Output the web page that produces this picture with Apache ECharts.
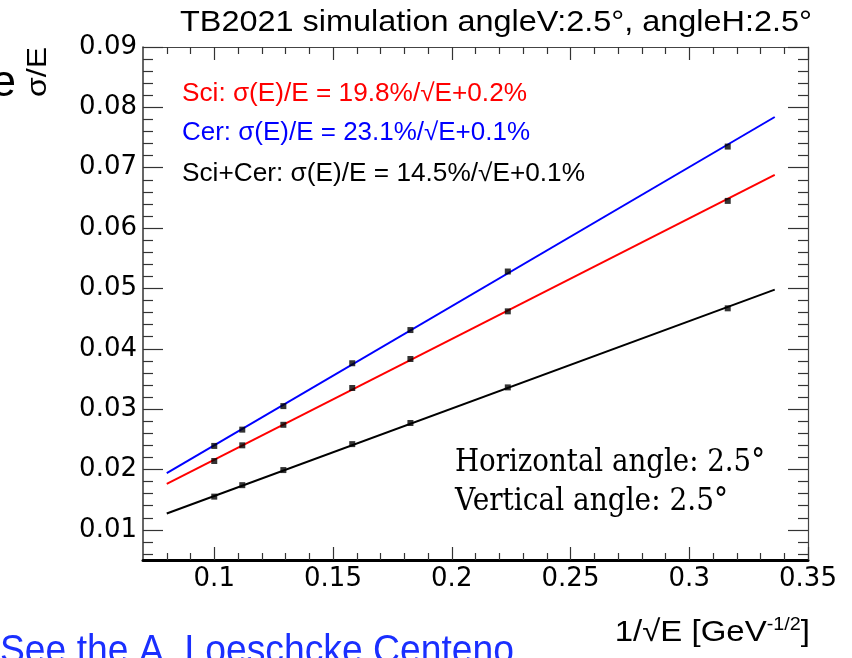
<!DOCTYPE html>
<html><head><meta charset="utf-8">
<script src="https://cdn.jsdelivr.net/npm/echarts@6/dist/echarts.min.js"></script>
<style>html,body{margin:0;padding:0;background:#fff}#c{width:852px;height:658px}</style>
</head><body><div id="c"></div>
<script>
// ---- data ----
const xInvSqrtE = [0.1, 0.1118, 0.1291, 0.1581, 0.1826, 0.2236, 0.3162];
const sciValues = [0.0214, 0.0240, 0.0274, 0.0335, 0.0383, 0.0462, 0.0645];
const cerValues = [0.0239, 0.0266, 0.0305, 0.0376, 0.0431, 0.0528, 0.0735];
const sumValues = [0.0155, 0.0174, 0.0199, 0.0242, 0.0277, 0.0336, 0.0467];
const fitX   = [0.08, 0.336];
const sciFit = [0.0176, 0.0688];
const cerFit = [0.0194, 0.0784];
const sumFit = [0.0127, 0.0498];
const xMajorTicks = [0.1, 0.15, 0.2, 0.25, 0.3, 0.35];
const xTickLabels = ['0.1', '0.15', '0.2', '0.25', '0.3', '0.35'];
const xMinorTicks = [0.08, 0.09, 0.11, 0.12, 0.13, 0.14, 0.16, 0.17, 0.18, 0.19, 0.21, 0.22, 0.23, 0.24, 0.26, 0.27, 0.28, 0.29, 0.31, 0.32, 0.33, 0.34];
const yMajorTicks = [0.01, 0.02, 0.03, 0.04, 0.05, 0.06, 0.07, 0.08, 0.09];
const yTickLabels = ['0.01', '0.02', '0.03', '0.04', '0.05', '0.06', '0.07', '0.08', '0.09'];
const yMinorTicks = [0.006, 0.008, 0.012, 0.014, 0.016, 0.018, 0.022, 0.024, 0.026, 0.028, 0.032, 0.034, 0.036, 0.038, 0.042, 0.044, 0.046, 0.048, 0.052, 0.054, 0.056, 0.058, 0.062, 0.064, 0.066, 0.068, 0.072, 0.074, 0.076, 0.078, 0.082, 0.084, 0.086, 0.088];
const legendTexts = ['Sci: σ(E)/E = 19.8%/√E+0.2%', 'Cer: σ(E)/E = 23.1%/√E+0.1%', 'Sci+Cer: σ(E)/E = 14.5%/√E+0.1%'];
const titleText = 'TB2021 simulation angleV:2.5°, angleH:2.5°';
const noteTexts = ['Horizontal angle: 2.5°', 'Vertical angle: 2.5°'];
const linkText = 'See the A. Loeschcke Centeno';

const X_MIN = 0.07, X_MAX = 0.35, Y_MIN = 0.005, Y_MAX = 0.09;

const mctx = document.createElement('canvas').getContext('2d');
function fitScale(text, font, w) { mctx.font = font; return w / mctx.measureText(text).width; }

function lookup(vals, labels) {
  return function (v) {
    for (let i = 0; i < vals.length; i++) if (Math.abs(vals[i] - v) < 1e-9) return labels[i];
    return '';
  };
}

const labelFont = { fontFamily: 'DejaVu Sans', fontSize: 26, color: '#000' };

function xAxisDef(pos, ticks, len, showLine, lineW, lineCol, labels) {
  return {
    type: 'value', position: pos, min: X_MIN, max: X_MAX, gridIndex: 0,
    axisLine: { show: showLine, lineStyle: { color: lineCol, width: lineW } },
    axisTick: { show: true, inside: true, length: len, customValues: ticks, lineStyle: { color: '#333', width: 1.2 } },
    axisLabel: labels ? Object.assign({ show: true, margin: 6, customValues: xMajorTicks, formatter: lookup(xMajorTicks, xTickLabels) }, labelFont) : { show: false },
    splitLine: { show: false }, minorTick: { show: false }
  };
}
function yAxisDef(pos, ticks, len, showLine, lineW, lineCol, labels) {
  return {
    type: 'value', position: pos, min: Y_MIN, max: Y_MAX, gridIndex: 0,
    axisLine: { show: showLine, lineStyle: { color: lineCol, width: lineW } },
    axisTick: { show: true, inside: true, length: len, customValues: ticks, lineStyle: { color: '#333', width: 1.2 } },
    axisLabel: labels ? Object.assign({ show: true, margin: 6, customValues: yMajorTicks, formatter: lookup(yMajorTicks, yTickLabels) }, labelFont) : { show: false },
    splitLine: { show: false }, minorTick: { show: false }
  };
}

function pairs(xs, ys) { return xs.map((x, i) => [x, ys[i]]); }

const lineSeries = (name, ys, color) => ({
  name, type: 'line', data: pairs(fitX, ys), showSymbol: false, symbol: 'none',
  lineStyle: { color, width: 2 }, z: 3, silent: true, animation: false
});
const pointSeries = (name, ys) => ({
  name, type: 'scatter', data: pairs(xInvSqrtE, ys), symbol: 'rect', symbolSize: 6,
  itemStyle: { color: '#000' }, z: 5, animation: false
});

const F_SANS = 'Liberation Sans';
const titleFont = '29px "' + F_SANS + '"';
const legFont = '25px "' + F_SANS + '"';
const noteFont = '31px "DejaVu Serif"';
const linkFont = '40px "' + F_SANS + '"';
const yTitleFont = '27px "' + F_SANS + '"';

function txt(text, x, y, font, fill, w, extra) {
  const st = { text, fill, font, align: 'left', verticalAlign: 'middle' };
  const el = { type: 'text', x, y, style: st, z: 10, silent: true };
  if (w) el.scaleX = fitScale(text, font, w);
  return Object.assign(el, extra || {});
}

const legendColors = ['#ff0000', '#0000ff', '#000000'];
const legendBase = [103, 142, 183];
const legendWidths = [345, 348, 403];

const graphics = [];
graphics.push(txt(titleText, 180, 23, titleFont, '#000', 632));
graphics.push({ type: 'text', x: 16, y: 84, style: { text: 'e', fill: '#000', font: '44px "' + F_SANS + '"', align: 'right', verticalAlign: 'middle' }, silent: true });
graphics.push({ type: 'text', x: 39, y: 47, rotation: Math.PI / 2, scaleX: fitScale('σ/E', yTitleFont, 50),
  style: { text: 'σ/E', fill: '#000', font: yTitleFont, align: 'right', verticalAlign: 'middle' }, silent: true });
legendTexts.forEach((t, i) => graphics.push(txt(t, 182, legendBase[i] - 8.5, legFont, legendColors[i], legendWidths[i])));
graphics.push(txt(noteTexts[0], 455, 473 - 10.5, noteFont, '#000', 310));
graphics.push(txt(noteTexts[1], 455, 512 - 10.5, noteFont, '#000', 273));
graphics.push(txt(linkText, 0, 665 - 13, linkFont, '#1a2fff', 514));
graphics.push({ type: 'text', x: 810, y: 633, scaleX: 1.1, silent: true,
  style: { text: '1/√E [GeV{s|-1/2}]', fill: '#000', font: '30px "' + F_SANS + '"', align: 'right', verticalAlign: 'middle',
    rich: { s: { fontSize: 18, fontFamily: F_SANS, verticalAlign: 'top', padding: [0, 0, 15, 0] } } } });

const chart = echarts.init(document.getElementById('c'), null, { renderer: 'canvas' });
chart.setOption({
  animation: false,
  backgroundColor: '#fff',
  grid: { left: 143, top: 47, width: 665, height: 513, containLabel: false },
  xAxis: [
    xAxisDef('bottom', xMajorTicks, 13, true, 3, '#000', true),
    xAxisDef('bottom', xMinorTicks, 7, false, 1, '#000', false),
    xAxisDef('top', xMajorTicks, 13, true, 1.2, '#444', false),
    xAxisDef('top', xMinorTicks, 7, false, 1, '#000', false)
  ],
  yAxis: [
    yAxisDef('left', yMajorTicks, 20, true, 1.5, '#333', true),
    yAxisDef('left', yMinorTicks, 10, false, 1, '#000', false),
    yAxisDef('right', yMajorTicks, 20, true, 1.2, '#444', false),
    yAxisDef('right', yMinorTicks, 10, false, 1, '#000', false)
  ],
  series: [
    lineSeries('Cer fit', cerFit, '#0000ff'),
    lineSeries('Sci fit', sciFit, '#ff0000'),
    lineSeries('Sci+Cer fit', sumFit, '#000000'),
    pointSeries('Cer', cerValues),
    pointSeries('Sci', sciValues),
    pointSeries('Sci+Cer', sumValues)
  ],
  graphic: graphics
});
</script></body></html>
